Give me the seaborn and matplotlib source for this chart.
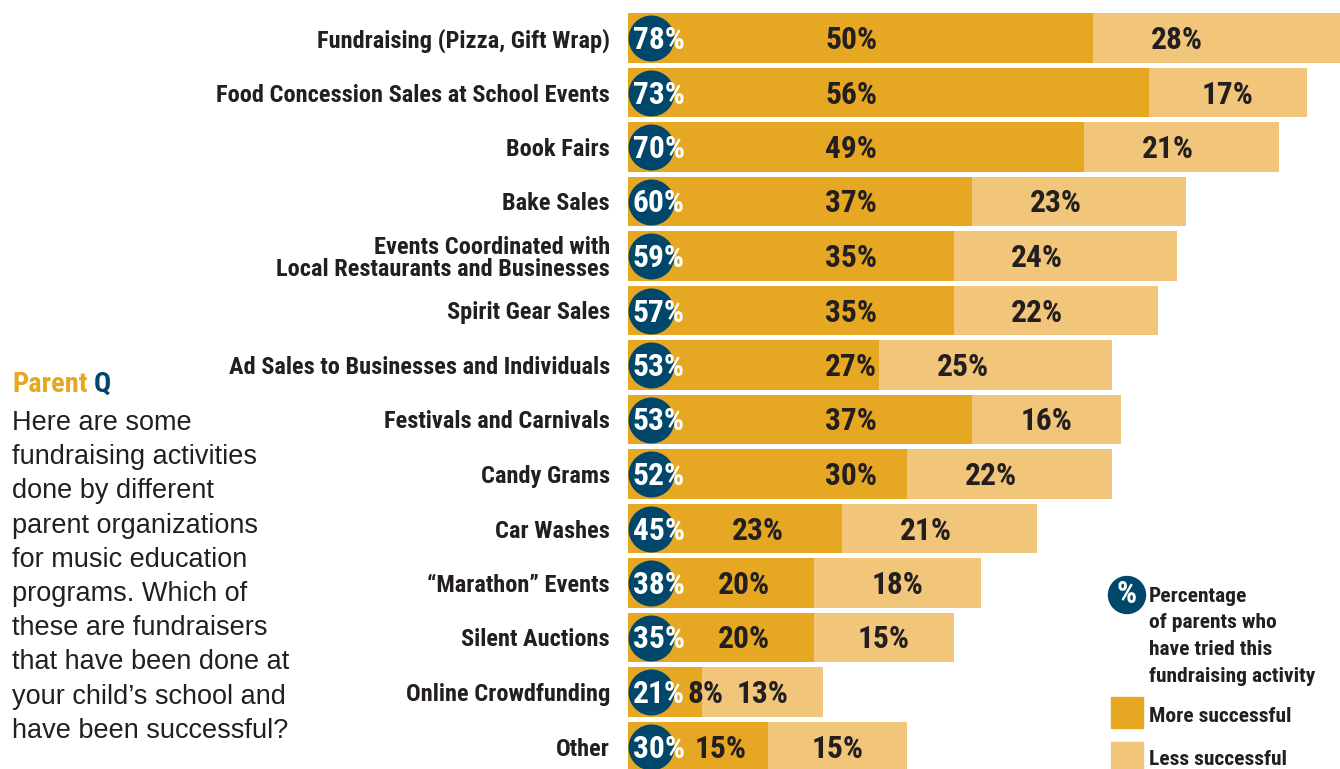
import matplotlib.pyplot as plt
from matplotlib import font_manager as fm
from matplotlib.patches import Rectangle
import numpy as np
import pandas as pd
import seaborn as sns

# values
activities = [
    'Fundraising (Pizza, Gift Wrap)',
    'Food Concession Sales at School Events',
    'Book Fairs',
    'Bake Sales',
    'Events Coordinated with\nLocal Restaurants and Businesses',
    'Spirit Gear Sales',
    'Ad Sales to Businesses and Individuals',
    'Festivals and Carnivals',
    'Candy Grams',
    'Car Washes',
    '\u201cMarathon\u201d Events',
    'Silent Auctions',
    'Online Crowdfunding',
    'Other',
]
tried = [78, 73, 70, 60, 59, 57, 53, 53, 52, 45, 38, 35, 21, 30]
more_successful = [50, 56, 49, 37, 35, 35, 27, 37, 30, 23, 20, 20, 8, 15]
less_successful = [28, 17, 21, 23, 24, 22, 25, 16, 22, 21, 18, 15, 13, 15]

body_lines = [
    'Here are some',
    'fundraising activities',
    'done by different',
    'parent organizations',
    'for music education',
    'programs. Which of',
    'these are fundraisers',
    'that have been done at',
    'your child\u2019s school and',
    'have been successful?',
]
legend_lines = ['Percentage', 'of parents who', 'have tried this',
                'fundraising activity']

GOLD = '#E6A823'
LIGHT = '#F1C67A'
NAVY = '#00476B'
INK = '#231F20'


def weight_of(f):
    w = f.weight
    if isinstance(w, str):
        w = fm.weight_dict.get(w, 400)
    return int(w)


def pick_bold(families):
    for fam in families:
        faces = [f for f in fm.fontManager.ttflist
                 if f.name == fam and f.style == 'normal' and weight_of(f) >= 600]
        if faces:
            faces.sort(key=lambda f: abs(weight_of(f) - 700))
            return faces[0].fname
    return None


cond_file = pick_bold(['Roboto Condensed', 'Archivo Narrow', 'PT Sans Narrow',
                       'Barlow Semi Condensed', 'IBM Plex Sans Condensed',
                       'Encode Sans Condensed', 'Barlow Condensed',
                       'Liberation Sans Narrow', 'Open Sans Condensed'])
body_file = pick_bold(['Liberation Sans'])  # only used as a check
if cond_file:
    COND_PROP = fm.FontProperties(fname=cond_file)
else:
    COND_PROP = fm.FontProperties(family='DejaVu Sans', weight='bold',
                                  stretch='condensed')

sns.set_theme(style='white')
plt.rcParams['font.family'] = ['Liberation Sans', 'DejaVu Sans']

df = pd.DataFrame({'activity': activities, 'tried': tried,
                   'more': more_successful, 'less': less_successful})
df['stack'] = df['more'] + df['less']

W, H = 1340, 769
fig = plt.figure(figsize=(W / 100, H / 100), dpi=100)
renderer = fig.canvas.get_renderer()


def fit_size(sample, target_px, base=20):
    # font size that makes `sample` about target_px wide in the condensed face
    p = COND_PROP.copy()
    p.set_size(base)
    w, h, d = renderer.get_text_width_height_descent(sample, p, ismath=False)
    return base * target_px / w


def cprop(size):
    p = COND_PROP.copy()
    p.set_size(size)
    return p


size_cat = min(fit_size('Food Concession Sales at School Events', 395), 20)
size_num = min(fit_size('50%', 52), 24)
size_parent = min(fit_size('Parent', 75), 22)
size_leg = min(fit_size('fundraising activity', 166), 18)

ax = fig.add_axes([628 / W, 0, 1 - 628 / W, 1])

# light bar = full stack, dark bar drawn over it
sns.barplot(data=df, x='stack', y='activity', color=LIGHT, width=0.917,
            saturation=1, linewidth=0, ax=ax)
sns.barplot(data=df, x='more', y='activity', color=GOLD, width=0.917,
            saturation=1, linewidth=0, ax=ax)

px_per_unit = 9.3
xmax = (W - 628) / px_per_unit
ax.set_xlim(0, xmax)
row_px = 54.5
ytop = -38 / row_px
ax.set_ylim(ytop + H / row_px, ytop)

n = len(df)
rows = np.arange(n)
_, hh, dd = renderer.get_text_width_height_descent('50', cprop(size_num), ismath=False)
base = (hh - dd) / 2 / row_px  # baseline shift so digits sit centred on bar


def txt(x, y, s, color):
    return ax.text(x, y + base, s, color=color, va='baseline', ha='center',
                   zorder=4, fontproperties=cprop(size_num))


# navy badges with the "tried" share
ax.scatter(np.full(n, 2.45), rows, s=1097, color=NAVY, linewidths=0,
           zorder=3, clip_on=False)
for i, row in df.iterrows():
    txt(3.3, i, f"{row['tried']}%", 'white')

    m = row['more']
    mx = 24 if m >= 25 else max((5 + m) / 2, 8.3)
    txt(mx, i, f'{m}%', INK)

    left = m
    right = min(row['stack'], xmax)
    lx = min((left + right) / 2, left + 9)
    txt(lx, i, f"{row['less']}%", INK)

ax.set_xlabel('')
ax.set_ylabel('')
ax.set_xticks([])
ax.set_yticks(rows)
ax.set_yticklabels(activities, color=INK, linespacing=1.0,
                   fontproperties=cprop(size_cat))
ax.tick_params(axis='y', length=0, pad=13)
sns.despine(ax=ax, left=True, bottom=True, top=True, right=True)


def fy(y_px):
    return 1 - y_px / H


def ftxt(x_px, y_px, s, color, **kw):
    return fig.text(x_px / W, fy(y_px), s, color=color, va='baseline', **kw)


# question block on the left
t = ftxt(12, 392, 'Parent', GOLD, fontproperties=cprop(size_parent))
fig.canvas.draw()
bb = t.get_window_extent()
ftxt(bb.x1 + 6, 392, 'Q', NAVY, fontproperties=cprop(size_parent))
for k, line in enumerate(body_lines):
    ftxt(12, 430 + 34.2 * k, line, INK, fontsize=19.5)

# legend
fig.patches.append(plt.Circle((1127, H - 595), 18.5, color=NAVY,
                              transform=None, figure=fig))
ftxt(1127, 603, '%', 'white', ha='center', fontproperties=cprop(size_num))
for k, line in enumerate(legend_lines):
    ftxt(1149, 602 + 26.5 * k, line, INK, fontproperties=cprop(size_leg))
fig.patches.append(Rectangle((1111 / W, fy(728)), 32 / W, 31 / H,
                             color=GOLD, transform=fig.transFigure, figure=fig))
fig.patches.append(Rectangle((1111 / W, fy(772)), 32 / W, 30 / H,
                             color=LIGHT, transform=fig.transFigure, figure=fig))
ftxt(1149, 722, 'More successful', INK, fontproperties=cprop(size_leg))
ftxt(1149, 765, 'Less successful', INK, fontproperties=cprop(size_leg))

fig.savefig('out.png', dpi=100)
plt.close(fig)
